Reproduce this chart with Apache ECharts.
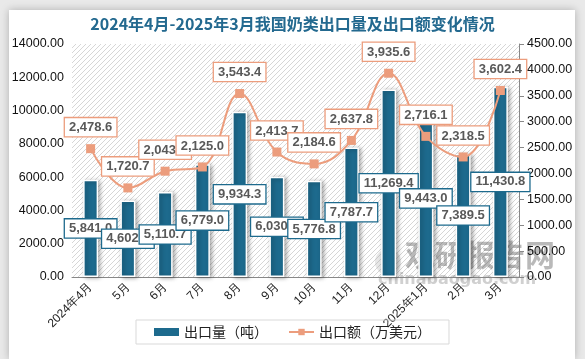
<!DOCTYPE html>
<html><head><meta charset="utf-8">
<script src="https://cdn.jsdelivr.net/npm/echarts@6/dist/echarts.min.js"></script>
<style>html,body{margin:0;padding:0;background:#e9e9e9;}#c{width:585px;height:359px;}</style>
</head><body><div id="c"></div>
<script>
const categories = ['2024年4月','5月','6月','7月','8月','9月','10月','11月','12月','2025年1月','2月','3月'];
const volume = [5841.0,4602.0,5110.7,6779.0,9934.3,6030.0,5776.8,7787.7,11269.4,9443.0,7389.5,11430.8];
const amount = [2478.6,1720.7,2043.7,2125.0,3543.4,2413.7,2184.6,2637.8,3935.6,2716.1,2318.5,3602.4];
const leftTicks = {min:0, max:14000, interval:2000};
const rightTicks = {min:0, max:4500, interval:500};

const pc = document.createElement('canvas');
pc.width = 5; pc.height = 5;
const g = pc.getContext('2d');
g.fillStyle = '#ffffff'; g.fillRect(0,0,5,5);
g.strokeStyle = '#d6d6d6'; g.lineWidth = 1;
g.beginPath(); g.moveTo(0,5); g.lineTo(5,0); g.moveTo(-2.5,2.5); g.lineTo(2.5,-2.5); g.moveTo(2.5,7.5); g.lineTo(7.5,2.5); g.stroke();

const fmt = v => v.toLocaleString('en-US',{minimumFractionDigits:1,maximumFractionDigits:1});
const chart = echarts.init(document.getElementById('c'), null, {renderer:'canvas'});
chart.setOption({
  animation:false,
  backgroundColor:'#e9e9e9',
  graphic:[
    {type:'rect', z:-10, shape:{x:9,y:10,width:566,height:349}, style:{fill:'#ffffff', shadowBlur:8, shadowColor:'rgba(0,0,0,0.25)'}},
    {type:'text', z:0, left:405, top:240, style:{text:'观研报告网', fill:'rgba(80,80,80,0.4)', font:'bold 30px "Noto Sans CJK SC"'}},
    {type:'text', z:0, left:378, top:272, style:{text:'chinabaogao.com', fill:'rgba(120,120,120,0.35)', font:'bold 16px "DejaVu Sans"'}},
    {type:'circle', z:0, shape:{cx:388,cy:262,r:13}, style:{fill:'rgba(160,160,160,0.25)'}}
  ],
  title:{text:'2024年4月-2025年3月我国奶类出口量及出口额变化情况', left:'center', top:11,
    textStyle:{color:'#23698f', fontSize:16, fontWeight:'bold', fontFamily:'"Noto Sans CJK SC"'}},
  grid:{left:72, right:66, top:44, bottom:82, show:true, borderWidth:0, backgroundColor:{image:pc, repeat:'repeat'}},
  legend:{bottom:15, left:'center', itemGap:20, padding:[5,18,5,18], borderColor:'#d9d9d9', borderWidth:1,
    textStyle:{fontSize:14, color:'#222', fontFamily:'"Noto Sans CJK SC"'},
    data:[{name:'出口量（吨）', icon:'rect', itemStyle:{borderWidth:0}}, {name:'出口额（万美元）'}], itemWidth:25, itemHeight:8},
  xAxis:{type:'category', data:categories,
    axisLine:{lineStyle:{color:'#888'}}, axisTick:{show:false},
    axisLabel:{rotate:45, fontSize:12, color:'#222', interval:0, margin:8}},
  yAxis:[
    {type:'value', min:leftTicks.min, max:leftTicks.max, interval:leftTicks.interval, splitLine:{show:false},
     axisLabel:{formatter:v=>v.toFixed(2), color:'#111', fontSize:12.5}, axisLine:{show:false}},
    {type:'value', min:rightTicks.min, max:rightTicks.max, interval:rightTicks.interval, splitLine:{show:false},
     axisLabel:{formatter:v=>v.toFixed(2), color:'#111', fontSize:12.5}, axisLine:{show:true, lineStyle:{color:'#888'}},
     axisTick:{show:true, inside:false, length:5, lineStyle:{color:'#888'}}}
  ],
  series:[
    {name:'出口量（吨）', type:'bar', data:volume, barWidth:15, yAxisIndex:0,
     itemStyle:{color:'#1d6a8d', borderColor:'#ffffff', borderWidth:1.5, shadowBlur:4, shadowColor:'rgba(0,0,0,0.35)', shadowOffsetX:2, shadowOffsetY:1},
     label:{show:true, position:'inside', formatter:p=>fmt(p.value), color:'#595959', fontWeight:'bold', fontSize:13,
       backgroundColor:'#fff', borderColor:'#1d6a8d', borderWidth:1.3, padding:[3,4,2,4]}},
    {name:'出口额（万美元）', type:'line', data:amount, yAxisIndex:1, smooth:0.4, symbol:'rect', symbolSize:9,
     lineStyle:{color:'#ec9d7d', width:2}, itemStyle:{color:'#ec9d7d'},
     label:{show:true, position:'top', distance:8, formatter:p=>fmt(p.value), color:'#595959', fontWeight:'bold', fontSize:13,
       backgroundColor:'#fff', borderColor:'#ec9d7d', borderWidth:1.3, padding:[3,4,2,4]}}
  ]
});
</script></body></html>
